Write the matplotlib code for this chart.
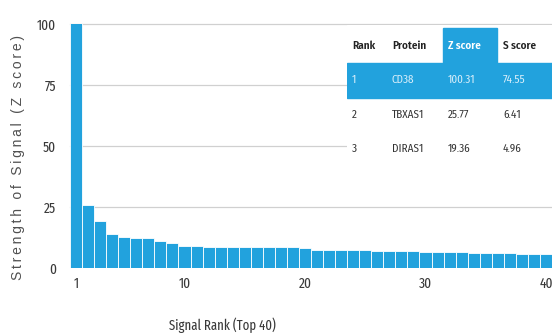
import matplotlib
matplotlib.use("Agg")
import matplotlib.pyplot as plt
from matplotlib.patches import Rectangle

# Data
ranks = list(range(1, 41))
z_scores = [100.31, 25.77, 19.36, 14.1, 12.6, 12.5, 12.4, 10.9, 10.3, 8.9,
            8.9, 8.8, 8.8, 8.7, 8.7, 8.6, 8.6, 8.5, 8.5, 8.0,
            7.5, 7.4, 7.3, 7.3, 7.2, 7.1, 7.0, 6.9, 6.8, 6.7,
            6.6, 6.5, 6.4, 6.3, 6.2, 6.1, 6.0, 5.9, 5.8, 5.7]
yticks = [0, 25, 50, 75, 100]
xticks = [1, 10, 20, 30, 40]

table_header = ["Rank", "Protein", "Z score", "S score"]
table_rank = ["1", "2", "3"]
table_protein = ["CD38", "TBXAS1", "DIRAS1"]
table_z = ["100.31", "25.77", "19.36"]
table_s = ["74.55", "6.41", "4.96"]

BLUE = "#22a2dd"
FONT = ["Fira Sans Extra Condensed", "DejaVu Sans"]
TFONT = ["Fira Sans Condensed", "DejaVu Sans"]
plt.rcParams['font.family'] = FONT

W, H = 552, 334
fig = plt.figure(figsize=(W / 100, H / 100), dpi=100)
ax = fig.add_axes([70 / W, (H - 268) / H, 482 / W, 244 / H])

ax.bar(ranks, z_scores, width=1.0, color=BLUE, edgecolor="white", linewidth=0.6, zorder=3)
ax.set_xlim(0.5, 40.5)
ax.set_ylim(0, 100)
ax.set_yticks(yticks)
ax.set_xticks(xticks)
for g in [25, 50, 75, 100]:
    ax.axhline(g, color="#d0d0d0", linewidth=0.9, zorder=1, clip_on=False)
for s in ax.spines.values():
    s.set_visible(False)
ax.tick_params(axis="both", length=0, labelsize=10.5, colors="#3a3a3a")
ax.tick_params(axis="y", pad=10)
ax.tick_params(axis="x", pad=6)

ylabel = "Strength of Signal (Z score)"
fig.text(18 / W, 1 - 157 / H, "\u2009".join(ylabel), rotation=90,
         ha="center", va="center", fontsize=10, color="#505050",
         family=["Liberation Sans", "DejaVu Sans"])
fig.text(222 / W, 1 - 325 / H, "Signal Rank (Top 40)", ha="center", va="center",
         fontsize=10, color="#3a3a3a")

# Table
tx0, tx1, ty0, ty1 = 347, 552, 25, 166
tax = fig.add_axes([tx0 / W, (H - ty1) / H, (tx1 - tx0) / W, (ty1 - ty0) / H])
tax.set_xlim(tx0, tx1)
tax.set_ylim(ty1, ty0)
tax.axis("off")
tax.add_patch(Rectangle((tx0, ty0), tx1 - tx0, ty1 - ty0, color="white", zorder=0))
tax.add_patch(Rectangle((443, 28), 54, 35, color=BLUE, zorder=1))
tax.add_patch(Rectangle((tx0, 63), tx1 - tx0, 35, color=BLUE, zorder=1))

col_x = [352, 392, 448, 503]
for x, t, i in zip(col_x, table_header, range(4)):
    tax.text(x, 46, t, ha="left", va="center", fontsize=8, fontweight="semibold",
             color="white" if i == 2 else "#222222", zorder=2, family=TFONT)
row_y = [80, 115, 149]
for r in range(3):
    c = "#d8eefa" if r == 0 else "#333333"
    for x, t in zip(col_x, [table_rank[r], table_protein[r], table_z[r], table_s[r]]):
        tax.text(x, row_y[r], t, ha="left", va="center", fontsize=8, color=c,
                 zorder=2, family=TFONT)

fig.savefig("out.png", dpi=100)
